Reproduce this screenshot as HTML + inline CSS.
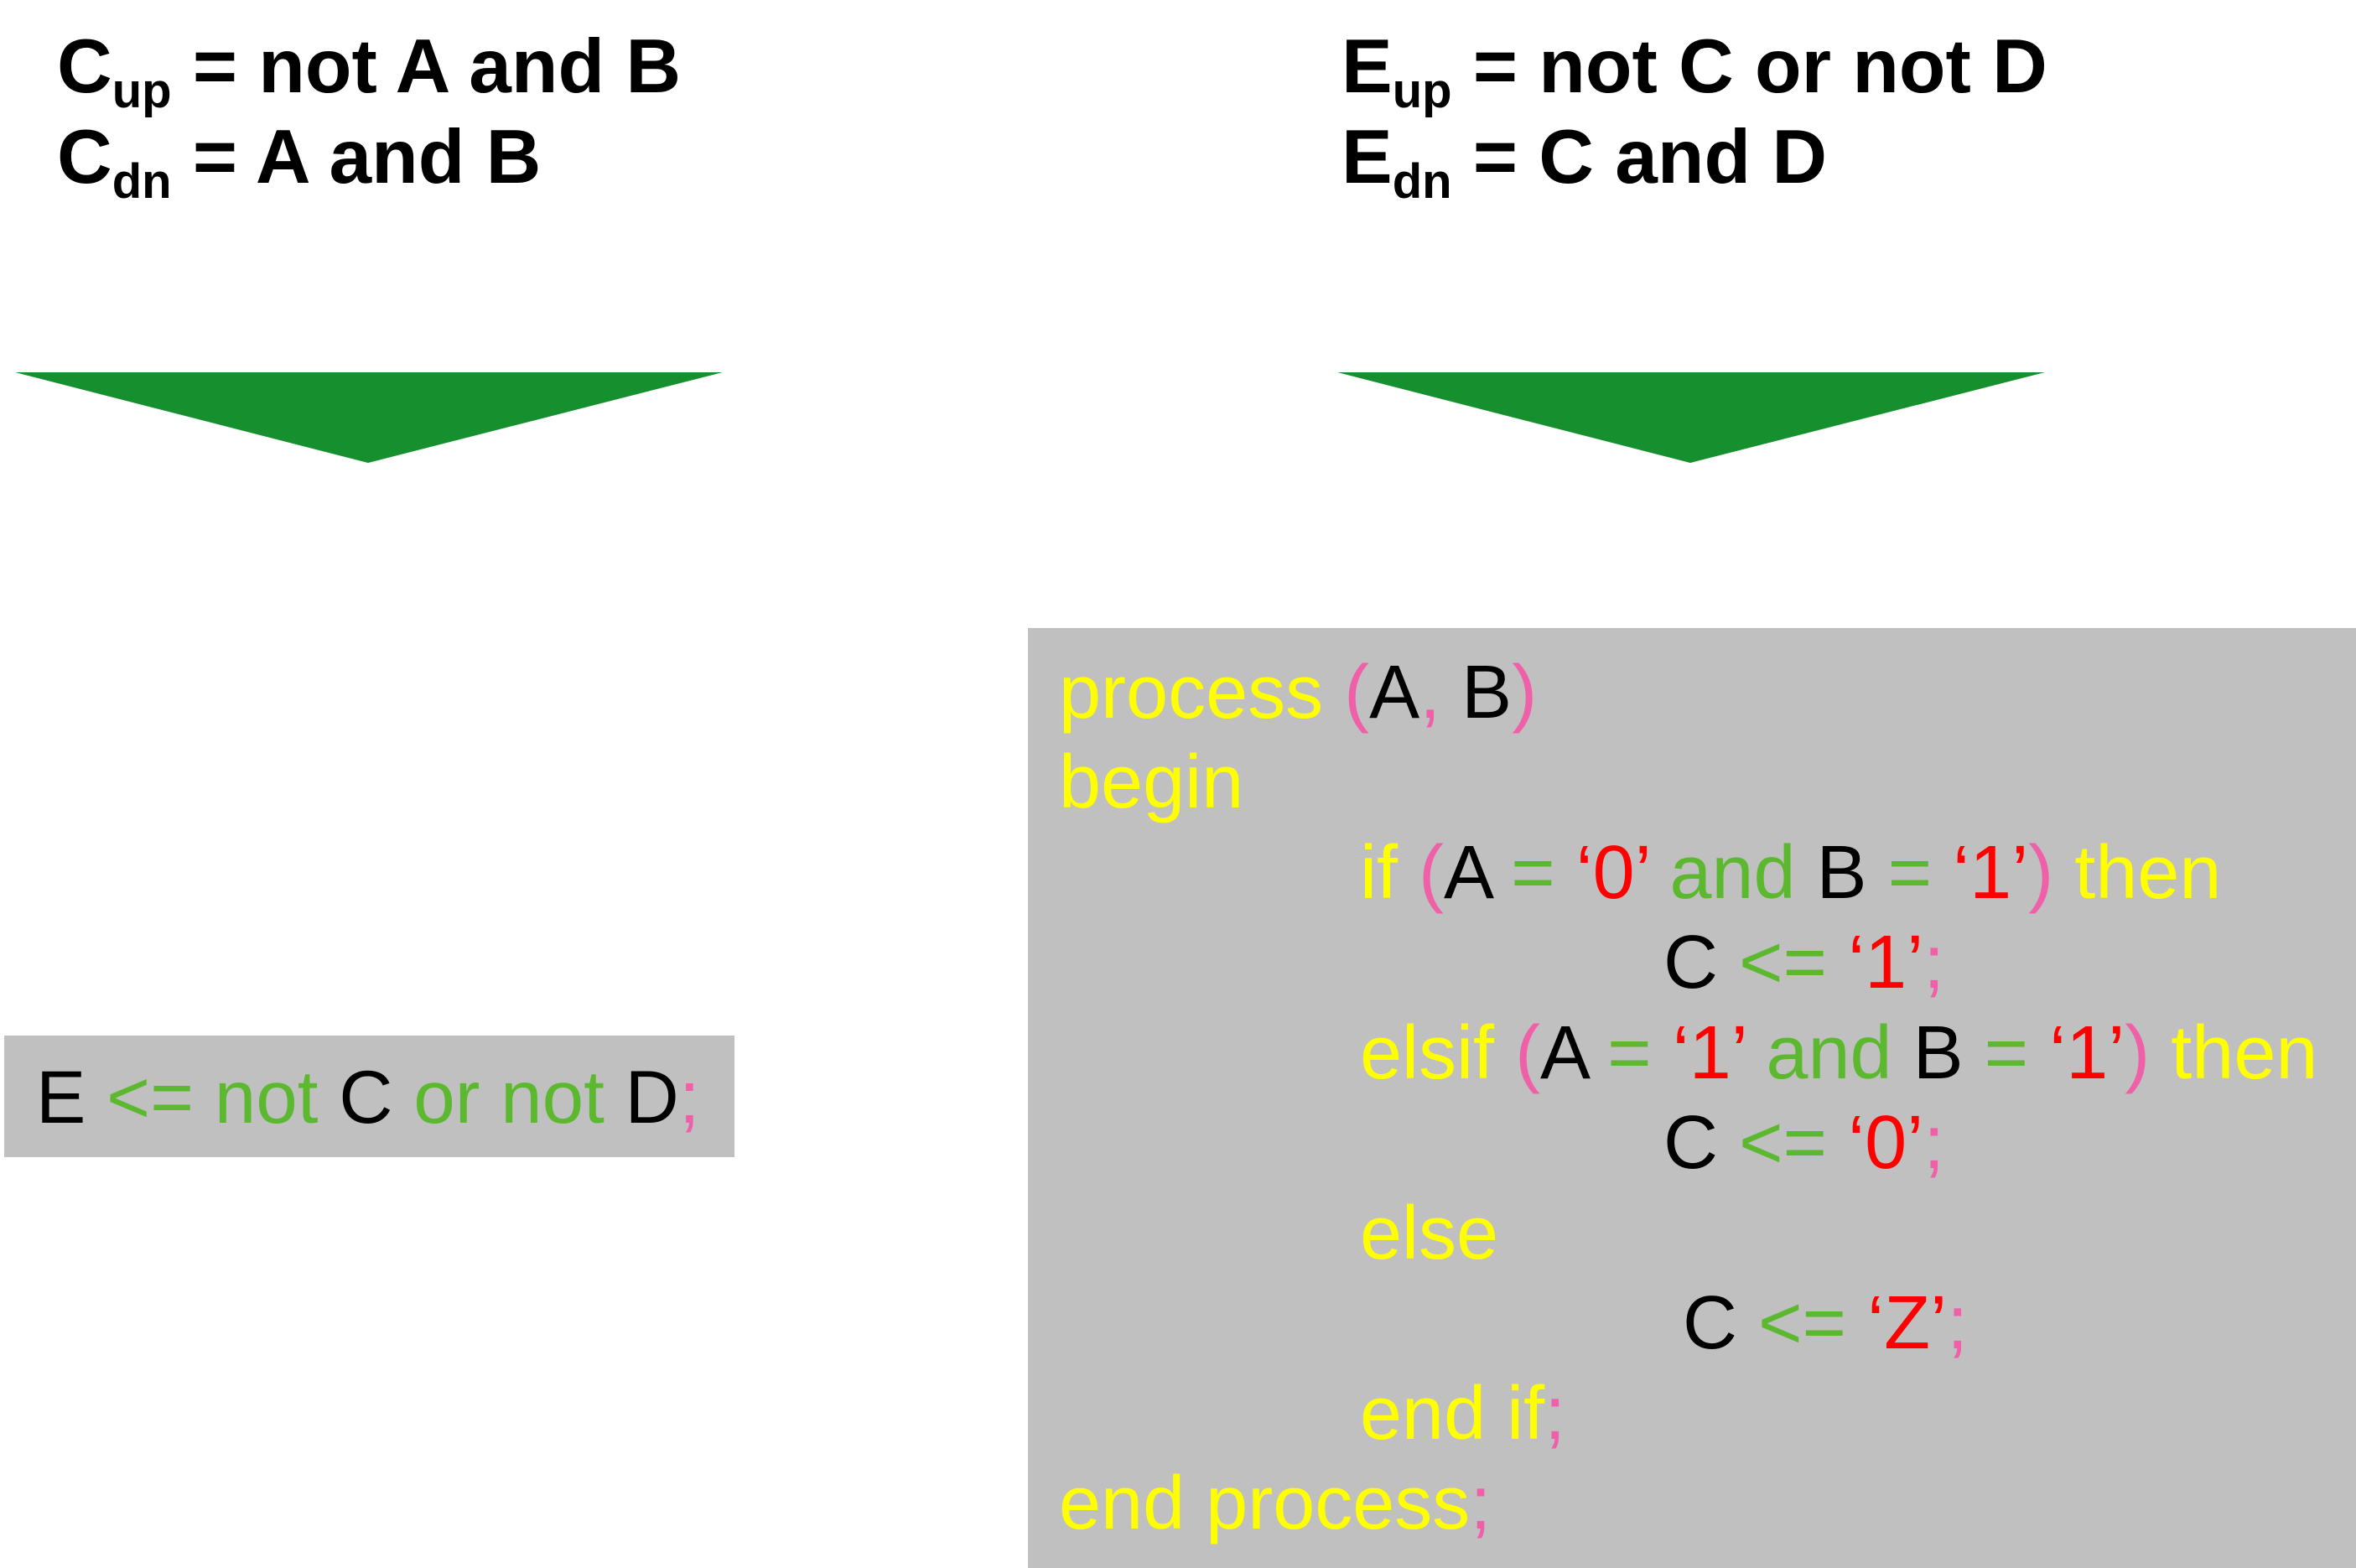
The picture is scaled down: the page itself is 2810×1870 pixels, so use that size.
<!DOCTYPE html>
<html><head><meta charset="utf-8"><style>
body{margin:0;width:2810px;height:1870px;background:#fff;position:relative;overflow:hidden;font-family:"Liberation Sans",Arial,sans-serif}
.t{position:absolute;white-space:pre;line-height:1}
.h{font-weight:bold;font-size:91px;color:#000}
.h sub{font-size:58px;vertical-align:-18px;line-height:0}
.c{font-size:90px}
.y{color:#ffff00}.p{color:#f060a8}.r{color:#ff0000}.g{color:#5cb82e}.k{color:#000}
</style></head><body>
<div class="t h" style="left:68px;top:34px">C<sub>up</sub> = not A and B</div>
<div class="t h" style="left:68px;top:142px">C<sub>dn</sub> = A and B</div>
<div class="t h" style="left:1600px;top:34px">E<sub>up</sub> = not C or not D</div>
<div class="t h" style="left:1600px;top:142px">E<sub>dn</sub> = C and D</div>
<svg style="position:absolute;left:0;top:0" width="2810" height="1870">
<polygon points="18,444 862,444 439,552" fill="#16902f"/>
<polygon points="1595,444 2439,444 2016,552" fill="#16902f"/>
<rect x="5" y="1235" width="871" height="145" fill="#c0c0c0"/>
<rect x="1226" y="749" width="1584" height="1121" fill="#c0c0c0"/>
</svg>
<div class="t c" style="left:43px;top:1264px;font-size:89px"><span class="k">E </span><span class="g">&lt;= not </span><span class="k">C </span><span class="g">or not </span><span class="k">D</span><span class="p">;</span></div>
<div class="t c" style="left:1263px;top:781px"><span class="y">process </span><span class="p">(</span><span class="k">A</span><span class="p">, </span><span class="k">B</span><span class="p">)</span></div>
<div class="t c" style="left:1263px;top:888px"><span class="y">begin</span></div>
<div class="t c" style="left:1622px;top:996px"><span class="y">if </span><span class="p">(</span><span class="k">A </span><span class="g">= </span><span class="r">‘0’ </span><span class="g">and </span><span class="k">B </span><span class="g">= </span><span class="r">‘1’</span><span class="p">)</span><span class="y"> then</span></div>
<div class="t c" style="left:1984px;top:1103px"><span class="k">C </span><span class="g">&lt;= </span><span class="r">‘1’</span><span class="p">;</span></div>
<div class="t c" style="left:1622px;top:1211px"><span class="y">elsif </span><span class="p">(</span><span class="k">A </span><span class="g">= </span><span class="r">‘1’ </span><span class="g">and </span><span class="k">B </span><span class="g">= </span><span class="r">‘1’</span><span class="p">)</span><span class="y"> then</span></div>
<div class="t c" style="left:1984px;top:1318px"><span class="k">C </span><span class="g">&lt;= </span><span class="r">‘0’</span><span class="p">;</span></div>
<div class="t c" style="left:1622px;top:1426px"><span class="y">else</span></div>
<div class="t c" style="left:2007px;top:1533px"><span class="k">C </span><span class="g">&lt;= </span><span class="r">‘Z’</span><span class="p">;</span></div>
<div class="t c" style="left:1622px;top:1641px"><span class="y">end if</span><span class="p">;</span></div>
<div class="t c" style="left:1263px;top:1748px"><span class="y">end process</span><span class="p">;</span></div>
</body></html>
